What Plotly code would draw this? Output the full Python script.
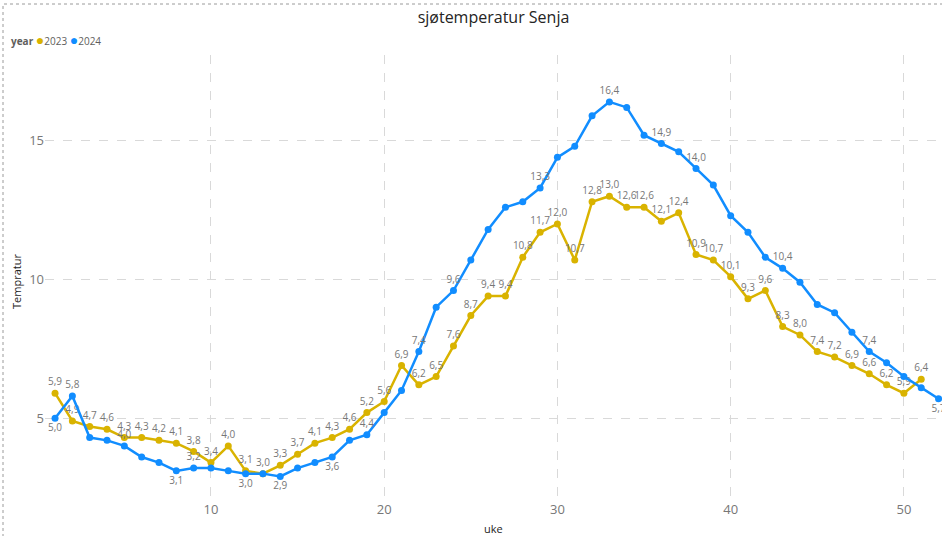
"""
sjøtemperatur Senja - ukentlig sjøtemperatur 2023 vs 2024
"""
import plotly.graph_objects as go

# data
uke_2023 = list(range(1, 52))
temp_2023 = [5.9, 4.9, 4.7, 4.6, 4.3, 4.3, 4.2, 4.1, 3.8, 3.4,
             4.0, 3.1, 3.0, 3.3, 3.7, 4.1, 4.3, 4.6, 5.2, 5.6,
             6.9, 6.2, 6.5, 7.6, 8.7, 9.4, 9.4, 10.8, 11.7, 12.0,
             10.7, 12.8, 13.0, 12.6, 12.6, 12.1, 12.4, 10.9, 10.7, 10.1,
             9.3, 9.6, 8.3, 8.0, 7.4, 7.2, 6.9, 6.6, 6.2, 5.9,
             6.4]

uke_2024 = list(range(1, 53))
temp_2024 = [5.0, 5.8, 4.3, 4.2, 4.0, 3.6, 3.4, 3.1, 3.2, 3.2,
             3.1, 3.0, 3.0, 2.9, 3.2, 3.4, 3.6, 4.2, 4.4, 5.2,
             6.0, 7.4, 9.0, 9.6, 10.7, 11.8, 12.6, 12.8, 13.3, 14.4,
             14.8, 15.9, 16.4, 16.2, 15.2, 14.9, 14.6, 14.0, 13.4, 12.3,
             11.7, 10.8, 10.4, 9.9, 9.1, 8.8, 8.1, 7.4, 7.0, 6.5,
             6.1, 5.7]

# uker med synlig etikett for 2024 (Power BI skjuler overlappende)
label_above_2024 = [2, 5, 9, 19, 22, 24, 29, 33, 36, 38, 43, 48]
label_below_2024 = [1, 8, 12, 14, 17, 52]

gold = '#D9B300'
blue = '#118DFF'


def fmt(v):
    return f'{v:.1f}'.replace('.', ',')


text_2023 = [fmt(v) for v in temp_2023]
text_2024 = []
pos_2024 = []
for u, v in zip(uke_2024, temp_2024):
    if u in label_above_2024:
        text_2024.append(fmt(v))
        pos_2024.append('top center')
    elif u in label_below_2024:
        text_2024.append(fmt(v))
        pos_2024.append('bottom center')
    else:
        text_2024.append('')
        pos_2024.append('top center')

fig = go.Figure()
fig.add_trace(go.Scatter(
    x=uke_2023, y=temp_2023, mode='lines+markers+text', name='2023',
    line=dict(color=gold, width=2.5), marker=dict(color=gold, size=7),
    text=text_2023, textposition='top center',
    textfont=dict(color='#777777', size=10), cliponaxis=False
))
fig.add_trace(go.Scatter(
    x=uke_2024, y=temp_2024, mode='lines+markers+text', name='2024',
    line=dict(color=blue, width=2.5), marker=dict(color=blue, size=7),
    text=text_2024, textposition=pos_2024,
    textfont=dict(color='#777777', size=10), cliponaxis=False
))

# px -> paper
L, T, W, H = 45, 55, 897, 445
def px_x(p): return (p - L) / W
def px_y(p): return (T + H - p) / H

# dotted visual border
fig.add_shape(type='rect', xref='paper', yref='paper',
              x0=px_x(3), x1=px_x(960), y0=px_y(560), y1=px_y(4),
              line=dict(color='#9a9a9a', width=1, dash='dot'))

# compact legend like Power BI
fig.add_annotation(
    xref='paper', yref='paper', x=px_x(9), y=px_y(40), xanchor='left', yanchor='middle',
    showarrow=False, align='left',
    text=(f"<b>year</b> <span style='color:{gold};font-size:14px'>●</span>2023 "
          f"<span style='color:{blue};font-size:14px'>●</span>2024"),
    font=dict(size=10, color='#605E5C')
)
# axis titles
fig.add_annotation(xref='paper', yref='paper', x=0.5, y=px_y(528), showarrow=False,
                   text='uke', font=dict(size=11, color='#252423'),
                   xanchor='center', yanchor='middle')
fig.add_annotation(xref='paper', yref='paper', x=px_x(16), y=px_y(282), showarrow=False,
                   text='Tempratur', textangle=-90, font=dict(size=11, color='#252423'),
                   xanchor='center', yanchor='middle')

fig.update_layout(
    width=942, height=536,
    margin=dict(l=L, r=942 - L - W, t=T, b=536 - T - H, autoexpand=False),
    paper_bgcolor='white', plot_bgcolor='white', showlegend=False,
    font=dict(family='Open Sans, Noto Sans, sans-serif', color='#252423'),
    title=dict(text='sjøtemperatur Senja', x=0.5, xref='paper', y=1 - 17 / 536,
               yanchor='middle', font=dict(size=16, color='#252423')),
    xaxis=dict(range=[0.42, 52.2], tickvals=[10, 20, 30, 40, 50],
               showgrid=True, gridcolor='#d9d9d9', griddash='dash', gridwidth=1,
               zeroline=False, showline=False, ticks='',
               tickfont=dict(size=13, color='#777777')),
    yaxis=dict(range=[2.05, 18.09], tickvals=[5, 10, 15],
               showgrid=True, gridcolor='#d9d9d9', griddash='dash', gridwidth=1,
               zeroline=False, showline=False, ticks='',
               tickfont=dict(size=13, color='#777777')),
)

# fjern standard body-marg slik at figuren fyller vinduet
fig.write_html('out.html', config={'displayModeBar': False},
               post_script="document.body.style.margin='0';")
